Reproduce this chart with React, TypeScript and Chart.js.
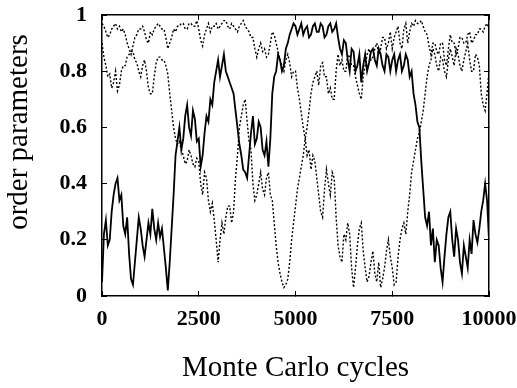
import React, { useEffect, useRef } from 'react';
import { Chart, registerables } from 'chart.js';

Chart.register(...registerables);

// Monte Carlo cycle sampling grid (every 50 cycles, 0..10000)
const cycles: number[] = Array.from({ length: 201 }, (_, i) => i * 50);

// solid line (one row = 500 cycles)
const solidSeries: number[] = [
  0.05, 0.22, 0.27, 0.18, 0.20, 0.30, 0.36, 0.40, 0.42, 0.34,
  0.36, 0.25, 0.22, 0.28, 0.15, 0.06, 0.04, 0.12, 0.20, 0.28,
  0.24, 0.18, 0.14, 0.20, 0.26, 0.22, 0.31, 0.24, 0.20, 0.26,
  0.21, 0.24, 0.17, 0.10, 0.02, 0.12, 0.24, 0.36, 0.50, 0.55,
  0.60, 0.52, 0.56, 0.64, 0.68, 0.60, 0.57, 0.66, 0.63, 0.55,
  0.56, 0.46, 0.50, 0.58, 0.64, 0.62, 0.70, 0.68, 0.76, 0.80,
  0.84, 0.78, 0.82, 0.86, 0.80, 0.78, 0.76, 0.74, 0.72, 0.66,
  0.60, 0.54, 0.50, 0.45, 0.44, 0.42, 0.50, 0.58, 0.64, 0.54,
  0.56, 0.62, 0.60, 0.52, 0.50, 0.55, 0.46, 0.56, 0.72, 0.78,
  0.80, 0.86, 0.84, 0.80, 0.82, 0.88, 0.90, 0.93, 0.95, 0.97,
  0.96, 0.93, 0.95, 0.97, 0.93, 0.95, 0.96, 0.92, 0.93, 0.96,
  0.97, 0.94, 0.94, 0.97, 0.96, 0.92, 0.93, 0.96, 0.97, 0.94,
  0.95, 0.97, 0.92, 0.88, 0.86, 0.91, 0.90, 0.84, 0.80, 0.88,
  0.87, 0.80, 0.82, 0.86, 0.76, 0.82, 0.86, 0.80, 0.83, 0.87,
  0.88, 0.84, 0.82, 0.88, 0.86, 0.82, 0.80, 0.86, 0.85, 0.80,
  0.84, 0.86, 0.80, 0.84, 0.86, 0.80, 0.82, 0.86, 0.84, 0.78,
  0.80, 0.72, 0.68, 0.62, 0.60, 0.48, 0.38, 0.28, 0.25, 0.30,
  0.18, 0.24, 0.12, 0.20, 0.18, 0.10, 0.05, 0.14, 0.22, 0.28,
  0.30, 0.20, 0.14, 0.24, 0.20, 0.12, 0.08, 0.18, 0.14, 0.10,
  0.20, 0.15, 0.27, 0.22, 0.19, 0.24, 0.30, 0.34, 0.40, 0.34,
  0.20,
];

// first dotted line
const dottedSeriesA: number[] = [
  0.97, 0.96, 0.94, 0.92, 0.93, 0.95, 0.96, 0.97, 0.95, 0.96,
  0.94, 0.95, 0.93, 0.90, 0.88, 0.86, 0.89, 0.92, 0.93, 0.95,
  0.95, 0.96, 0.94, 0.91, 0.90, 0.94, 0.93, 0.95, 0.96, 0.97,
  0.96, 0.95, 0.95, 0.92, 0.88, 0.90, 0.92, 0.95, 0.94, 0.96,
  0.96, 0.97, 0.97, 0.95, 0.95, 0.97, 0.97, 0.96, 0.96, 0.98,
  0.95, 0.91, 0.89, 0.93, 0.95, 0.97, 0.94, 0.96, 0.96, 0.97,
  0.95, 0.96, 0.97, 0.98, 0.98, 0.96, 0.95, 0.97, 0.96, 0.95,
  0.94, 0.96, 0.97, 0.98, 0.96, 0.95, 0.94, 0.92, 0.92, 0.88,
  0.85, 0.88, 0.90, 0.87, 0.88, 0.85, 0.86, 0.90, 0.94, 0.93,
  0.90, 0.87, 0.84, 0.82, 0.80, 0.84, 0.86, 0.83, 0.78, 0.80,
  0.80, 0.74, 0.70, 0.65, 0.60, 0.56, 0.50, 0.52, 0.45, 0.50,
  0.48, 0.42, 0.36, 0.30, 0.28, 0.38, 0.45, 0.40, 0.36, 0.44,
  0.42, 0.28, 0.18, 0.14, 0.12, 0.22, 0.20, 0.26, 0.22, 0.10,
  0.03, 0.10, 0.18, 0.24, 0.26, 0.16, 0.10, 0.05, 0.07, 0.12,
  0.16, 0.08, 0.05, 0.12, 0.03, 0.06, 0.10, 0.16, 0.20, 0.14,
  0.10, 0.04, 0.05, 0.14, 0.20, 0.24, 0.26, 0.22, 0.30, 0.36,
  0.44, 0.48, 0.52, 0.56, 0.58, 0.62, 0.66, 0.72, 0.78, 0.82,
  0.84, 0.88, 0.86, 0.82, 0.80, 0.85, 0.84, 0.80, 0.78, 0.84,
  0.88, 0.85, 0.82, 0.88, 0.86, 0.82, 0.80, 0.84, 0.87, 0.90,
  0.84, 0.80, 0.80, 0.86, 0.85, 0.82, 0.72, 0.68, 0.66, 0.72,
  0.80,
];

// second dotted line
const dottedSeriesB: number[] = [
  0.90, 0.85, 0.82, 0.78, 0.79, 0.74, 0.76, 0.80, 0.73, 0.75,
  0.80, 0.82, 0.82, 0.85, 0.86, 0.87, 0.87, 0.84, 0.83, 0.80,
  0.78, 0.82, 0.84, 0.80, 0.74, 0.72, 0.72, 0.78, 0.83, 0.85,
  0.85, 0.84, 0.84, 0.82, 0.79, 0.72, 0.66, 0.60, 0.56, 0.54,
  0.55, 0.52, 0.50, 0.47, 0.48, 0.52, 0.50, 0.47, 0.46, 0.49,
  0.48, 0.40, 0.36, 0.44, 0.42, 0.34, 0.30, 0.33, 0.27, 0.20,
  0.12, 0.20, 0.26, 0.22, 0.28, 0.32, 0.32, 0.26, 0.30, 0.42,
  0.50, 0.60, 0.64, 0.68, 0.70, 0.62, 0.55, 0.52, 0.40, 0.34,
  0.36, 0.40, 0.44, 0.38, 0.36, 0.42, 0.44, 0.36, 0.34, 0.26,
  0.18, 0.12, 0.08, 0.05, 0.03, 0.04, 0.06, 0.12, 0.20, 0.26,
  0.32, 0.38, 0.42, 0.46, 0.50, 0.56, 0.60, 0.66, 0.72, 0.76,
  0.78, 0.80, 0.75, 0.82, 0.83, 0.78, 0.78, 0.72, 0.74, 0.70,
  0.70, 0.80, 0.86, 0.82, 0.84, 0.80, 0.80, 0.86, 0.85, 0.82,
  0.82, 0.78, 0.75, 0.72, 0.70, 0.78, 0.82, 0.86, 0.88, 0.84,
  0.85, 0.88, 0.90, 0.86, 0.88, 0.92, 0.92, 0.88, 0.90, 0.94,
  0.88, 0.92, 0.94, 0.96, 0.90, 0.88, 0.95, 0.97, 0.90, 0.94,
  0.97, 0.96, 0.98, 0.97, 0.97, 0.98, 0.96, 0.94, 0.93, 0.89,
  0.86, 0.90, 0.90, 0.87, 0.86, 0.90, 0.90, 0.84, 0.82, 0.88,
  0.93, 0.90, 0.90, 0.86, 0.88, 0.92, 0.92, 0.90, 0.90, 0.93,
  0.94, 0.90, 0.91, 0.93, 0.93, 0.95, 0.95, 0.94, 0.96, 0.97,
  0.95,
];

const xTickValues: number[] = [0, 2500, 5000, 7500, 10000];
const xTickLabels: string[] = ['0', '2500', '5000', '7500', '10000'];
const yTickValues: number[] = [0, 0.2, 0.4, 0.6, 0.8, 1];
const yTickLabels: string[] = ['0', '0.2', '0.4', '0.6', '0.8', '1'];
const xTitle = 'Monte Carlo cycles';
const yTitle = 'order parameters';

const FONT = 'Liberation Serif';

export default function App() {
  const ref = useRef<HTMLCanvasElement>(null);

  useEffect(() => {
    if (!ref.current) return;
    const tickGrid = {
      display: true,
      drawOnChartArea: false,
      drawTicks: true,
      tickLength: -5,
      color: '#000',
      lineWidth: 1,
    };
    const border = { display: true, color: '#000', width: 1.5 };
    const setX = (s: any) => { s.ticks = xTickValues.map((v) => ({ value: v })); };
    const setY = (s: any) => { s.ticks = yTickValues.map((v) => ({ value: v })); };
    const noPad = (s: any) => { s.paddingTop = 0; s.paddingBottom = 0; s.paddingLeft = 0; s.paddingRight = 0; };

    const yTitlePlugin = {
      id: 'yTitleText',
      afterDraw(chart: any) {
        const ctx = chart.ctx;
        ctx.save();
        ctx.translate(19, 132);
        ctx.rotate(-Math.PI / 2);
        ctx.font = `29px "${FONT}"`;
        ctx.fillStyle = '#000';
        ctx.textAlign = 'center';
        ctx.textBaseline = 'middle';
        ctx.fillText(yTitle, 0, 0);
        ctx.restore();
      },
    };

    const toPts = (arr: number[]) => cycles.map((x, i) => ({ x, y: arr[i] }));

    const chart = new Chart(ref.current, {
      type: 'line',
      data: {
        datasets: [
          { data: toPts(solidSeries), borderColor: '#000', borderWidth: 1.8, pointRadius: 0, tension: 0, fill: false },
          { data: toPts(dottedSeriesA), borderColor: '#000', borderWidth: 1.4, borderDash: [2, 2], pointRadius: 0, tension: 0, fill: false },
          { data: toPts(dottedSeriesB), borderColor: '#000', borderWidth: 1.4, borderDash: [2, 2], pointRadius: 0, tension: 0, fill: false },
        ],
      },
      options: {
        animation: false,
        responsive: true,
        maintainAspectRatio: false,
        layout: { padding: 0 },
        plugins: { legend: { display: false }, tooltip: { enabled: false } },
        scales: {
          x: {
            type: 'linear', position: 'bottom', min: 0, max: 10000,
            afterBuildTicks: setX,
            afterFit: (s: any) => { s.height = 92; noPad(s); },
            ticks: {
              callback: (v: any) => { const i = xTickValues.indexOf(Number(v)); return i >= 0 ? xTickLabels[i] : ''; },
              font: { family: FONT, size: 22, weight: 'bold' }, color: '#000', padding: 15, maxRotation: 0, autoSkip: false,
            },
            grid: tickGrid, border,
            title: { display: true, text: xTitle, font: { family: FONT, size: 29 }, color: '#000', padding: { top: 0, bottom: 2 } },
          },
          x2: {
            type: 'linear', position: 'top', min: 0, max: 10000,
            afterBuildTicks: setX,
            afterFit: (s: any) => { s.height = 15; noPad(s); },
            ticks: { display: false },
            grid: tickGrid, border,
          },
          y: {
            type: 'linear', position: 'left', min: 0, max: 1,
            afterBuildTicks: setY,
            afterFit: (s: any) => { s.width = 102; noPad(s); },
            ticks: {
              callback: (v: any) => { const i = yTickValues.indexOf(Number(v)); return i >= 0 ? yTickLabels[i] : ''; },
              font: { family: FONT, size: 22, weight: 'bold' }, color: '#000', padding: 20,
            },
            grid: tickGrid, border,
          },
          y2: {
            type: 'linear', position: 'right', min: 0, max: 1,
            afterBuildTicks: setY,
            afterFit: (s: any) => { s.width = 28; noPad(s); },
            ticks: { display: false },
            grid: tickGrid, border,
          },
        },
      } as any,
      plugins: [yTitlePlugin],
    });
    return () => chart.destroy();
  }, []);

  return (
    <div style={{ position: 'fixed', left: 0, top: 0, width: 517, height: 388, background: '#fff' }}>
      <canvas ref={ref} />
    </div>
  );
}
